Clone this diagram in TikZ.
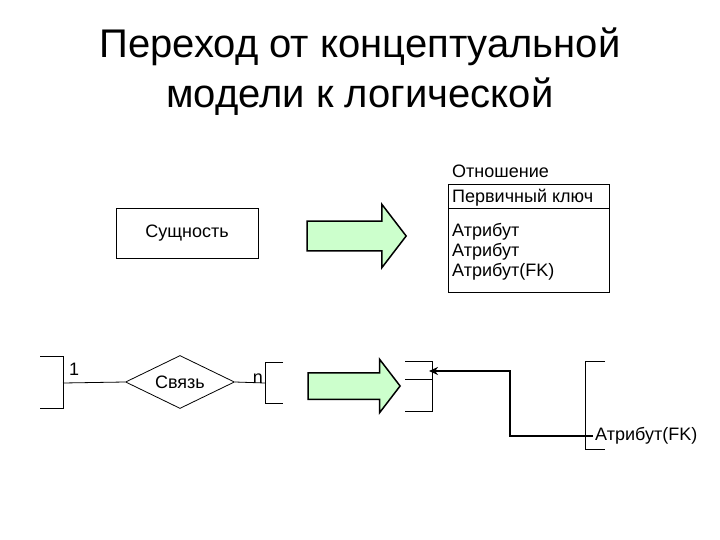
\documentclass[tikz,border=0pt]{standalone}
\usepackage{fontspec}
\setmainfont{Liberation Sans}
\usepackage{xcolor}
\usetikzlibrary{calc, positioning, arrows.meta, shapes.geometric, shapes.arrows}
\definecolor{arrowgreen}{RGB}{204,255,204}
\tikzset{
    mapping/.style={
        x=1pt, y=-1pt,
        font=\fontsize{18}{20}\selectfont,
        entity/.style={draw, rectangle, minimum width=142, minimum height=50, line width=0.8pt},
        relship/.style={draw, diamond, aspect=2, minimum width=109, minimum height=53, inner sep=1pt, line width=0.8pt},
        relation/.style={draw, rectangle, minimum width=161, minimum height=108, line width=0.8pt},
        bigarrow/.style={single arrow, draw, fill=arrowgreen, line width=1.5pt, inner xsep=0pt, single arrow tip angle=105},
        bracket/.style={line width=0.8pt},
        link/.style={line width=0.8pt},
        fkline/.style={line width=2.5pt, -{Stealth[length=9pt, width=8pt]}}
    }
}
\begin{document}
\begin{tikzpicture}[mapping]
        \useasboundingbox (0,0) rectangle (720,540);
        % Title
        \node[align=center, font=\fontsize{40}{50}\selectfont] (title) at (360,72) {Переход от концептуальной\\модели к логической};
        
        % Entity and relation
        \node[entity] (ent) at (187,233) {Сущность};
        \node[bigarrow, inner ysep=14pt, minimum width=62, minimum height=99, single arrow head extend=17pt] (arr1) at (351,236) {};
        \node[relation, anchor=north west] (rel) at (448,184) {};
        \draw[link] ([yshift=-24pt]rel.north west) -- ([yshift=-24pt]rel.north east);
        \node[anchor=south west, inner sep=2pt] (relname) at ([xshift=2pt, yshift=4pt]rel.north west) {Отношение};
        \node[anchor=west, inner sep=2pt] (pk) at ([xshift=2pt, yshift=-14pt]rel.north west) {Первичный ключ};
        \node[anchor=north west, align=left, inner sep=2pt] (attrs) at ([xshift=2pt, yshift=-37pt]rel.north west) {Атрибут\\Атрибут\\Атрибут(FK)};
        
        % Relationship
        \draw[bracket] (40,356) -| (63,408) -- (40,408);
        \coordinate (one) at (63,383);
        \node[relship] (rs) at (180,382) {Связь};
        \draw[bracket] (283,362) -| (265,403) -- (283,403);
        \coordinate (many) at (265,383);
        \draw[link] (one) -- (rs.west);
        \draw[link] (rs.east) -- (many);
        \node[anchor=north west, inner sep=1pt] (lone) at (68,362) {1};
        \node[anchor=south east, inner sep=1pt] (lmany) at (264,385) {n};
        
        % Foreign key
        \node[bigarrow, inner ysep=12.5pt, minimum width=52, minimum height=92, single arrow head extend=13.5pt] (arr2) at (349,386) {};
        \draw[bracket] (405,361) -| (432,411) -- (405,411);
        \draw[bracket] (405,379) -- (432,379);
        \draw[bracket] (605,361) -| (585,449) -- (605,449);
        \node[anchor=west, inner sep=2pt] (fklabel) at (593,436) {Атрибут(FK)};
        \coordinate (pkend) at (429,371);
        \draw[fkline] (fklabel.west) -| (510,371) -- (pkend);
    \end{tikzpicture}
\end{document}
